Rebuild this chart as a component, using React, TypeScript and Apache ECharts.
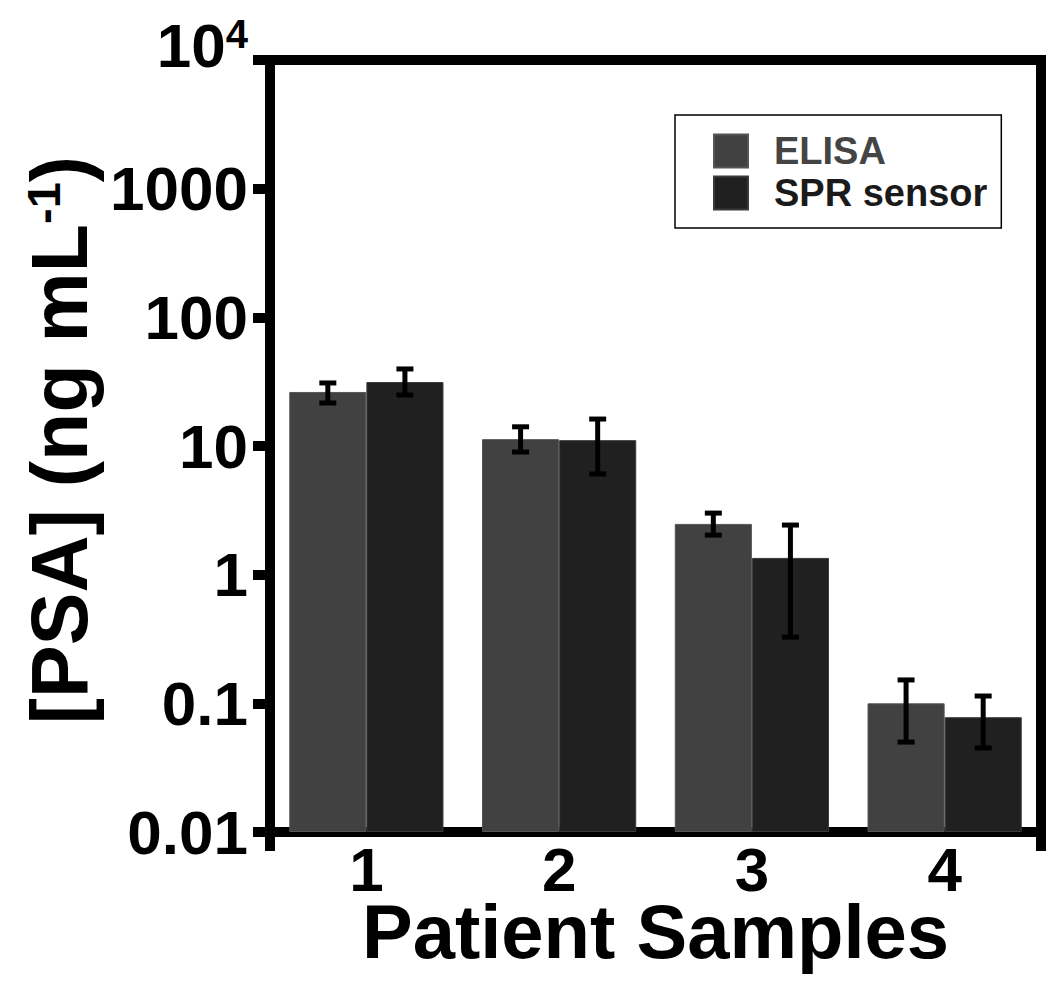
import React, { useEffect, useRef } from "react";
import * as echarts from "echarts";

const categories = ["1", "2", "3", "4"];
const seriesNames = ["ELISA", "SPR sensor"];
const elisa = [26.3, 11.3, 2.48, 0.1];
const elisaLow = [21.6, 8.98, 2.03, 0.05];
const elisaHigh = [30.9, 14.1, 3.01, 0.152];
const spr = [31.4, 11.1, 1.35, 0.078];
const sprLow = [24.9, 6.06, 0.327, 0.045];
const sprHigh = [39.7, 16.2, 2.43, 0.114];

const FONT = 'Arial, "Liberation Sans", Helvetica, sans-serif';
const ELISA_COLOR = "#414141";
const SPR_COLOR = "#202020";

function errorSeries(low: number[], high: number[], offset: number) {
  return {
    type: "custom",
    z: 10,
    silent: true,
    encode: { x: 0, y: [1, 2] },
    data: low.map((l, i) => [i, l, high[i]]),
    renderItem: (params: any, api: any) => {
      const i = api.value(0);
      const lo = api.coord([i, api.value(1)]);
      const hi = api.coord([i, api.value(2)]);
      const band = api.size([1, 1])[0];
      const x = lo[0] + offset * band;
      const cap = 8.5;
      const st = { stroke: "#000", lineWidth: 5 };
      return {
        type: "group",
        children: [
          { type: "line", shape: { x1: x, y1: hi[1], x2: x, y2: lo[1] }, style: st },
          { type: "line", shape: { x1: x - cap, y1: hi[1], x2: x + cap, y2: hi[1] }, style: st },
          { type: "line", shape: { x1: x - cap, y1: lo[1], x2: x + cap, y2: lo[1] }, style: st },
        ],
      };
    },
  };
}

export default function App() {
  const ref = useRef<HTMLDivElement>(null);
  useEffect(() => {
    if (!ref.current) return;
    const chart = echarts.init(ref.current, undefined, { renderer: "svg" });
    chart.setOption({
      animation: false,
      backgroundColor: "#fff",
      grid: {
        left: 270,
        right: 9,
        top: 60,
        bottom: 150,
        outerBoundsMode: "none",
        containLabel: false,
        show: true,
        borderColor: "#000",
        borderWidth: 10,
      },
      legend: {
        orient: "vertical",
        left: 675,
        top: 115,
        selectedMode: false,
        icon: "rect",
        itemWidth: 34,
        itemHeight: 33,
        itemGap: 4,
        padding: [17, 14, 16, 38],
        borderColor: "#000",
        borderWidth: 1.5,
        data: [
          { name: seriesNames[0], textStyle: { color: "#444" } },
          { name: seriesNames[1], textStyle: { color: "#1a1a1a" } },
        ],
        textStyle: {
          fontFamily: FONT,
          fontWeight: "bold",
          fontSize: 38,
          lineHeight: 34,
          padding: [0, 0, 0, 21],
        },
      },
      xAxis: {
        type: "category",
        data: categories,
        name: "Patient Samples",
        nameLocation: "middle",
        nameGap: 69,
        nameMoveOverlap: false,
        nameTextStyle: { fontFamily: FONT, fontWeight: "bold", fontSize: 76, lineHeight: 60, color: "#000" },
        axisLine: { show: true, lineStyle: { color: "#000", width: 10 } },
        axisTick: { show: false },
        axisLabel: {
          fontFamily: FONT,
          fontWeight: "bold",
          fontSize: 62,
          lineHeight: 48,
          color: "#000",
          margin: 13,
        },
      },
      yAxis: {
        type: "log",
        logBase: 10,
        min: 0.01,
        max: 10000,
        startValue: 0.01,
        splitNumber: 6,
        name: "[PSA] (ng mL{s|-1})",
        nameLocation: "middle",
        nameGap: 166,
        nameTextStyle: {
          fontFamily: FONT,
          fontWeight: "bold",
          fontSize: 79,
          color: "#000",
          padding: [0, 0, 0, 12],
          rich: {
            s: { fontFamily: FONT, fontWeight: "bold", fontSize: 47, color: "#000", verticalAlign: "top" },
          },
        },
        splitLine: { show: false },
        minorTick: { show: false },
        axisLine: { show: true, lineStyle: { color: "#000", width: 10 } },
        axisTick: { show: true, inside: false, length: 17, lineStyle: { color: "#000", width: 10 } },
        axisLabel: {
          margin: 22,
          color: "#000",
          fontFamily: FONT,
          fontWeight: "bold",
          fontSize: 62,
          formatter: (v: number) => {
            if (v >= 9999) return "{b|10}{s|4}";
            if (v < 1) return String(+v.toPrecision(1));
            return String(Math.round(v));
          },
          rich: {
            b: { fontFamily: FONT, fontWeight: "bold", fontSize: 62, color: "#000", padding: [0, 0, 30, 0] },
            s: { fontFamily: FONT, fontWeight: "bold", fontSize: 40, color: "#000", verticalAlign: "top" },
          },
        },
      },
      graphic: [
        { type: "line", shape: { x1: 270, y1: 832, x2: 270, y2: 851 }, style: { stroke: "#000", lineWidth: 10 } },
        { type: "line", shape: { x1: 1041, y1: 832, x2: 1041, y2: 851 }, style: { stroke: "#000", lineWidth: 10 } },
      ],
      series: [
        {
          name: seriesNames[0],
          type: "bar",
          data: elisa,
          barWidth: "40%",
          barGap: "0%",
          itemStyle: { color: ELISA_COLOR, borderColor: "#555", borderWidth: 1 },
        },
        {
          name: seriesNames[1],
          type: "bar",
          data: spr,
          barWidth: "40%",
          barGap: "0%",
          itemStyle: { color: SPR_COLOR, borderColor: "#3a3a3a", borderWidth: 1 },
        },
        errorSeries(elisaLow, elisaHigh, -0.2),
        errorSeries(sprLow, sprHigh, 0.2),
      ],
    });
    return () => chart.dispose();
  }, []);
  return <div ref={ref} style={{ position: "absolute", left: 0, top: 0, width: 1050, height: 982 }} />;
}
